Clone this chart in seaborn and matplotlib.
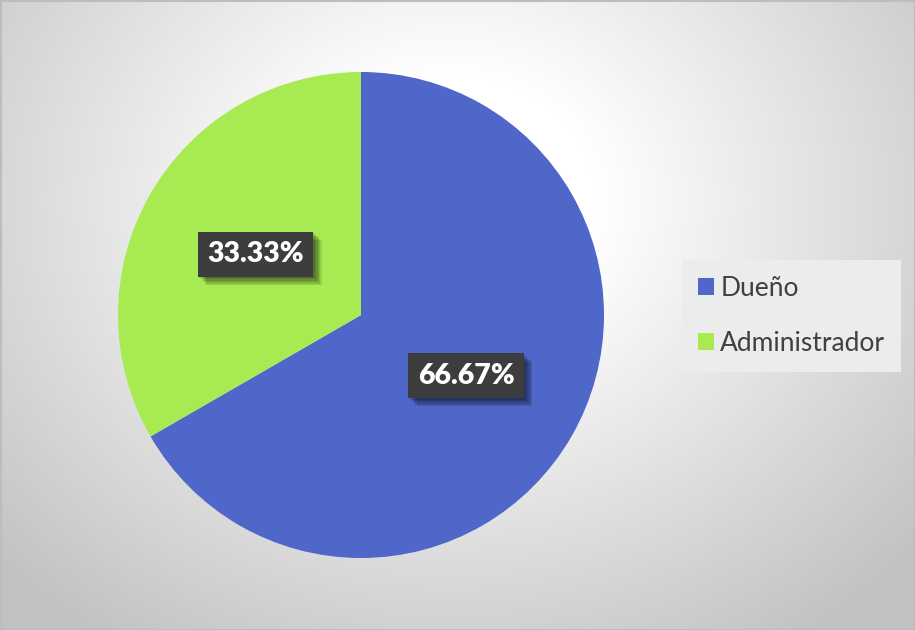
import numpy as np
import matplotlib
matplotlib.use("Agg")
import matplotlib.pyplot as plt
import matplotlib.patheffects as pe
from matplotlib.patches import Patch, Rectangle
import seaborn as sns

# Data
categories = ["Dueño", "Administrador"]
shares = [66.67, 33.33]
colors = ["#4E67C8", "#A7EA52"]

sns.set_theme(style="white")
plt.rcParams["font.family"] = ["Lato", "DejaVu Sans"]

W, H = 915, 630
fig = plt.figure(figsize=(W / 100, H / 100), dpi=100)
ax = fig.add_axes([0, 0, 1, 1])
ax.set_xlim(0, W)
ax.set_ylim(0, H)
ax.set_aspect("equal")
ax.axis("off")

# Soft radial background, light near the top centre, greyer toward the edges
yy, xx = np.mgrid[0:H, 0:W]
cx, cy = 450, 200
r = np.hypot((xx - cx) * 0.857, (yy - cy))
drop = np.clip((r - 125) * 0.15, 0, 62)
shade = (255 - drop) / 255.0
bg = np.dstack([shade, shade, shade])
ax.imshow(bg, extent=(0, W, 0, H), origin="upper", zorder=0, interpolation="bilinear")
ax.add_patch(Rectangle((0.5, 0.5), W - 1, H - 1, fill=False, edgecolor="#bdbdbd",
                       lw=1.5, zorder=5))

# Pie
center = (361, H - 315)
radius = 243
wedges, texts, autotexts = ax.pie(
    shares, colors=colors, startangle=90, counterclock=False,
    center=center, radius=radius, autopct="%.2f%%", pctdistance=0.5,
    wedgeprops=dict(linewidth=0), textprops=dict(color="white", fontsize=20.5,
                                                 fontweight="heavy"))
for w in wedges:
    w.set_zorder(2)

# Soft drop shadow built from several faint offset copies
shadow = [pe.SimplePatchShadow(offset=(d, -d), shadow_rgbFace="black", alpha=0.11)
          for d in (1, 2, 3, 4, 5, 6)]
for t in autotexts:
    t.set_zorder(4)
    t.set_bbox(dict(boxstyle="square,pad=0.33", facecolor="#3d3d3d",
                    edgecolor="none"))
    t.get_bbox_patch().set_path_effects(shadow + [pe.Normal()])
ax.set_xlim(0, W)
ax.set_ylim(0, H)

# Legend
handles = [Patch(facecolor=c, edgecolor="none") for c in colors]
leg = fig.legend(handles, categories, loc="center left",
                 bbox_to_anchor=(682 / W, 1 - 316 / H), bbox_transform=fig.transFigure,
                 frameon=True, fontsize=19, handlelength=0.6, handleheight=0.6,
                 handletextpad=0.25, labelspacing=1.15, borderpad=0.6,
                 borderaxespad=0, labelcolor="#404040")
frame = leg.get_frame()
frame.set_facecolor("#ececec")
frame.set_edgecolor("none")
frame.set_alpha(1)
frame.set_boxstyle("square", pad=0)

fig.savefig("out.png", dpi=100)
